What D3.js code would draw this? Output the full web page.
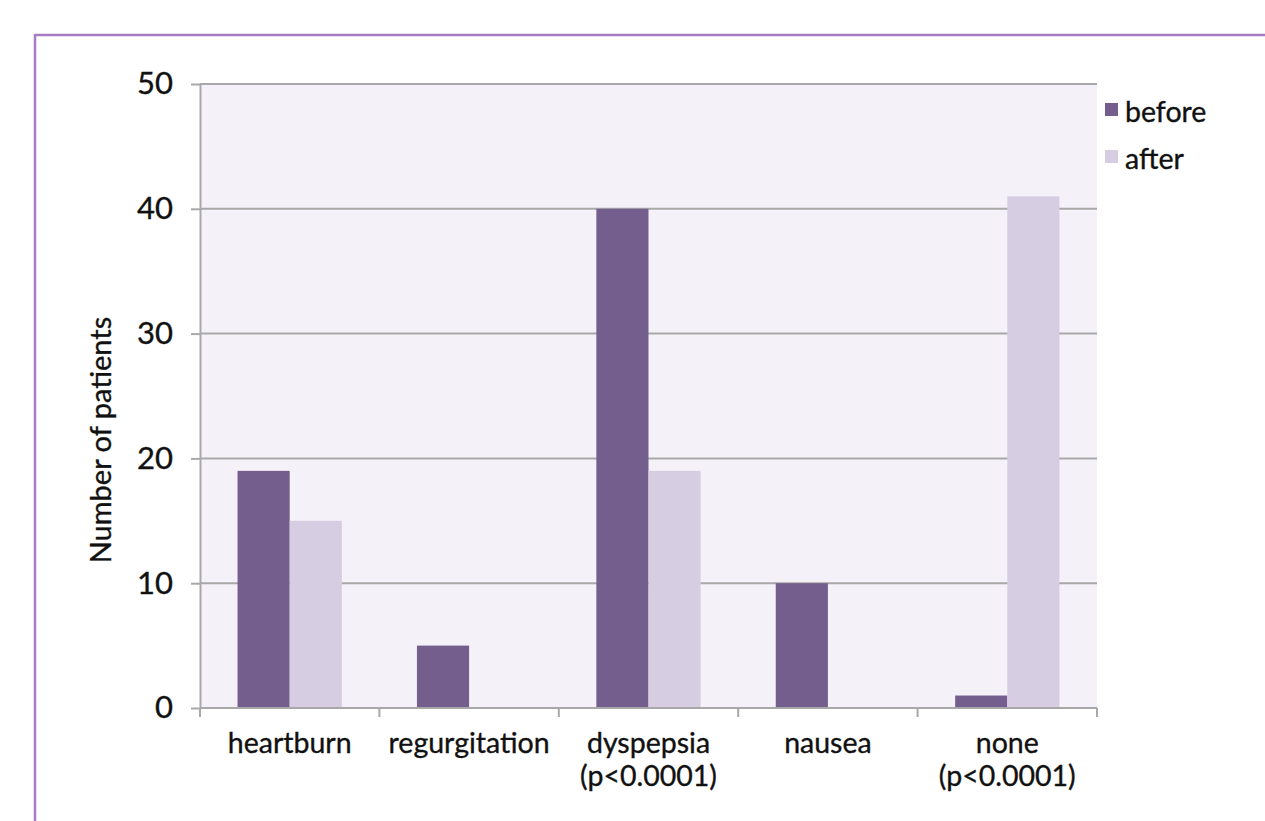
<!DOCTYPE html>
<html>
<head>
<meta charset="utf-8">
<script src="https://cdn.jsdelivr.net/npm/d3@7"></script>
<style>
  html, body { margin: 0; padding: 0; background: #fff; }
  svg { display: block; font-family: Lato, "Open Sans", sans-serif; }
  .lbl { fill: #111; stroke: #111; stroke-width: 0.35px; }
</style>
</head>
<body>
<svg id="chart" width="1265" height="821"></svg>
<script>
// Symptom counts before and after treatment
const categories = ["heartburn", "regurgitation", "dyspepsia", "nausea", "none"];
const categoryLines = [["heartburn"], ["regurgitation"], ["dyspepsia", "(p<0.0001)"], ["nausea"], ["none", "(p<0.0001)"]];
const seriesNames = ["before", "after"];
const beforeValues = [19, 5, 40, 10, 1];
const afterValues = [15, 0, 19, 0, 41];
const yTicks = [0, 10, 20, 30, 40, 50];

const colors = { before: "#745e8d", after: "#d6cde3" };

const svg = d3.select("#chart");

// Frame lines along top and left edge
svg.append("line").attr("x1", 35).attr("x2", 1265).attr("y1", 35).attr("y2", 35)
  .attr("stroke", "#a77cc4").attr("stroke-width", 2.5);
svg.append("line").attr("x1", 35).attr("x2", 35).attr("y1", 34).attr("y2", 821)
  .attr("stroke", "#a77cc4").attr("stroke-width", 2.5);

const plot = { left: 200, right: 1097, top: 84, bottom: 708 };

const x = d3.scaleBand().domain(categories).range([plot.left, plot.right]).paddingInner(0).paddingOuter(0);
const inner = d3.scaleBand().domain(seriesNames).range([0, x.bandwidth()]).paddingInner(0).paddingOuter(0.72);
const y = d3.scaleLinear().domain([0, 50]).range([plot.bottom, plot.top]);

// Plot background
svg.append("rect").attr("x", plot.left).attr("y", plot.top)
  .attr("width", plot.right - plot.left).attr("height", plot.bottom - plot.top)
  .attr("fill", "#f4f2f8");

// Horizontal gridlines
svg.append("g").selectAll("line").data(yTicks.filter(d => d > 0)).join("line")
  .attr("x1", plot.left).attr("x2", plot.right)
  .attr("y1", d => y(d)).attr("y2", d => y(d))
  .attr("stroke", "#a8a8a8").attr("stroke-width", 2);

// Bars
const data = categories.map((c, i) => ({ cat: c, before: beforeValues[i], after: afterValues[i] }));
const groups = svg.append("g").selectAll("g").data(data).join("g")
  .attr("transform", d => `translate(${x(d.cat)},0)`);
groups.selectAll("rect").data(d => seriesNames.map(s => ({ s, v: d[s] }))).join("rect")
  .attr("x", d => inner(d.s)).attr("width", inner.bandwidth())
  .attr("y", d => y(d.v)).attr("height", d => y(0) - y(d.v))
  .attr("fill", d => colors[d.s]);

// Y axis
const yAxis = svg.append("g").attr("transform", `translate(${plot.left},0)`)
  .call(d3.axisLeft(y).tickValues(yTicks).tickSize(9).tickPadding(18).tickSizeOuter(0));
yAxis.select(".domain").attr("stroke", "#a8a8a8").attr("stroke-width", 2);
yAxis.selectAll(".tick line").attr("stroke", "#a8a8a8").attr("stroke-width", 2);
yAxis.selectAll(".tick text").attr("class", "lbl").attr("font-size", 31)
  .attr("font-family", "Lato, 'Open Sans', sans-serif");

// X axis with ticks at category boundaries
const bounds = categories.map(c => x(c)).concat([plot.right]);
const xAxis = svg.append("g");
xAxis.append("line").attr("x1", plot.left).attr("x2", plot.right)
  .attr("y1", plot.bottom).attr("y2", plot.bottom)
  .attr("stroke", "#a8a8a8").attr("stroke-width", 2);
xAxis.selectAll("line.tk").data(bounds).join("line").attr("class", "tk")
  .attr("x1", d => d).attr("x2", d => d)
  .attr("y1", plot.bottom).attr("y2", plot.bottom + 9)
  .attr("stroke", "#a8a8a8").attr("stroke-width", 2);
const labels = xAxis.selectAll("text").data(categories).join("text")
  .attr("class", "lbl").attr("text-anchor", "middle").attr("font-size", 28.5)
  .attr("transform", d => `translate(${x(d) + x.bandwidth() / 2},${plot.bottom + 45})`);
labels.selectAll("tspan").data((d, i) => categoryLines[i]).join("tspan")
  .attr("x", 0).attr("dy", (d, i) => i === 0 ? 0 : 33).text(d => d);

// Y axis title
svg.append("text").attr("class", "lbl").attr("transform", "translate(111,440) rotate(-90)")
  .attr("text-anchor", "middle").attr("font-size", 29)
  .text("Number of patients");

// Legend
const legend = svg.append("g").selectAll("g").data(seriesNames).join("g")
  .attr("transform", (d, i) => `translate(1105,${103 + i * 47})`);
legend.append("rect").attr("width", 13).attr("height", 13).attr("fill", d => colors[d]);
legend.append("text").attr("class", "lbl").attr("x", 20).attr("y", 19).attr("font-size", 28.5).text(d => d);
</script>
</body>
</html>
